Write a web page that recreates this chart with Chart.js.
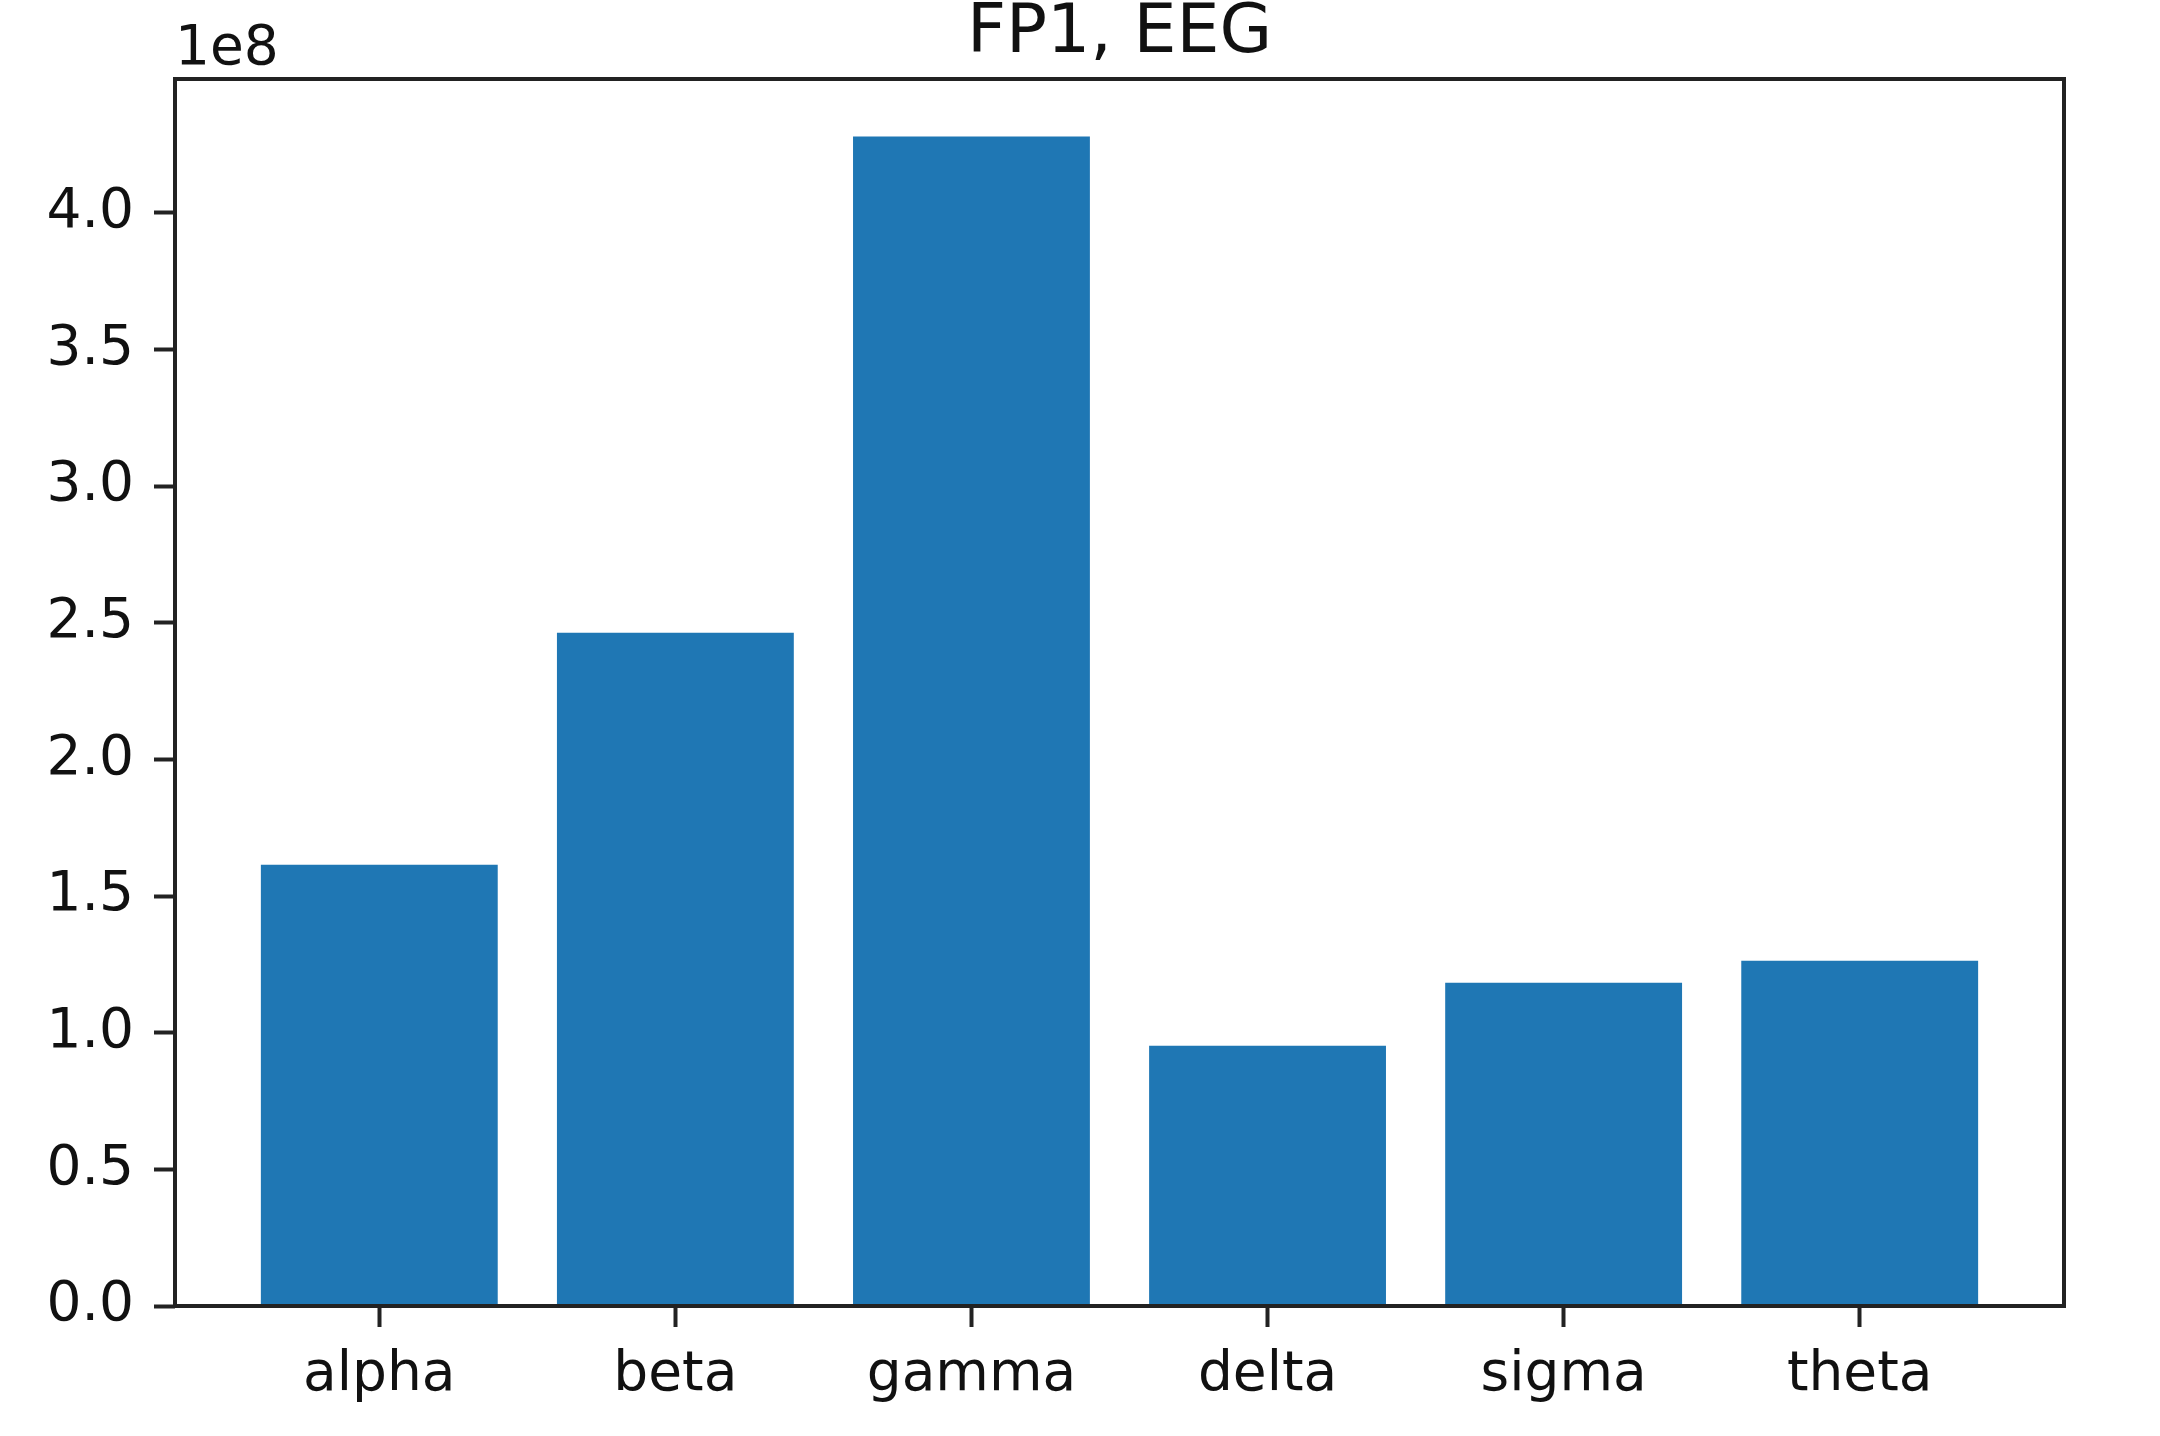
<!DOCTYPE html>
<html>
<head>
<meta charset="utf-8">
<script src="https://cdn.jsdelivr.net/npm/chart.js@4.4.1/dist/chart.umd.min.js"></script>
<style>
  html, body { margin: 0; padding: 0; background: #fff; }
  canvas { display: block; }
</style>
</head>
<body>
<canvas id="Chart" width="2160" height="1436"></canvas>
<script>
// band power, FP1 channel
const bands = ['alpha', 'beta', 'gamma', 'delta', 'sigma', 'theta'];
const power = [1.615e8, 2.464e8, 4.28e8, 0.952e8, 1.183e8, 1.263e8];
const yTicks = [0, 0.5e8, 1.0e8, 1.5e8, 2.0e8, 2.5e8, 3.0e8, 3.5e8, 4.0e8];
const titleText = 'FP1, EEG';
const offsetText = '1e8';

const FONT = 'DejaVu Sans';

// spines, title and the 1e8 offset label like matplotlib
const framePlugin = {
    id: 'frame',
    afterDatasetsDraw(chart) {
        const { ctx, chartArea: a } = chart;
        ctx.save();
        ctx.strokeStyle = '#222';
        ctx.lineWidth = 4;
        ctx.strokeRect(a.left, a.top, a.right - a.left, a.bottom - a.top);
        ctx.restore();
    },
    afterDraw(chart) {
        const { ctx, chartArea: a } = chart;
        ctx.save();
        ctx.fillStyle = '#111';
        ctx.font = '68px "' + FONT + '"';
        ctx.textAlign = 'center';
        ctx.textBaseline = 'alphabetic';
        ctx.fillText(titleText, (a.left + a.right) / 2, 52);
        ctx.font = '55px "' + FONT + '"';
        ctx.textAlign = 'left';
        ctx.fillText(offsetText, a.left, 64);
        ctx.restore();
    }
};

const ctx = document.getElementById('Chart').getContext('2d');
const myChart = new Chart(ctx, {
    type: 'bar',
    data: {
        datasets: [{
            data: bands.map((b, i) => ({ x: i, y: power[i] })),
            backgroundColor: '#1f77b4',
            borderWidth: 0,
            categoryPercentage: 1.0,
            barPercentage: 0.8
        }]
    },
    options: {
        responsive: false,
        animation: false,
        devicePixelRatio: 1,
        layout: { padding: { top: 79, right: 96, left: 0, bottom: 0 } },
        plugins: {
            legend: { display: false },
            title: { display: false },
            tooltip: { enabled: false }
        },
        scales: {
            x: {
                type: 'linear',
                min: -0.69,
                max: 5.69,
                offset: false,
                afterBuildTicks: s => { s.ticks = bands.map((b, i) => ({ value: i })); },
                afterFit: s => { s.height = 130; },
                grid: { offset: false, drawOnChartArea: false, drawTicks: true, tickLength: 21, tickColor: '#222', tickWidth: 4 },
                border: { display: false },
                ticks: {
                    padding: 16,
                    color: '#111',
                    font: { family: FONT, size: 55 },
                    maxRotation: 0,
                    callback: v => bands[v]
                }
            },
            y: {
                min: 0,
                max: 4.49e8,
                afterBuildTicks: s => { s.ticks = yTicks.map(v => ({ value: v })); },
                afterFit: s => { s.width = 175; },
                grid: { drawOnChartArea: false, drawTicks: true, tickLength: 21, tickColor: '#222', tickWidth: 4 },
                border: { display: false },
                ticks: {
                    padding: 20,
                    color: '#111',
                    font: { family: FONT, size: 55 },
                    callback: v => (v / 1e8).toFixed(1)
                }
            }
        }
    },
    plugins: [framePlugin]
});
</script>
</body>
</html>
